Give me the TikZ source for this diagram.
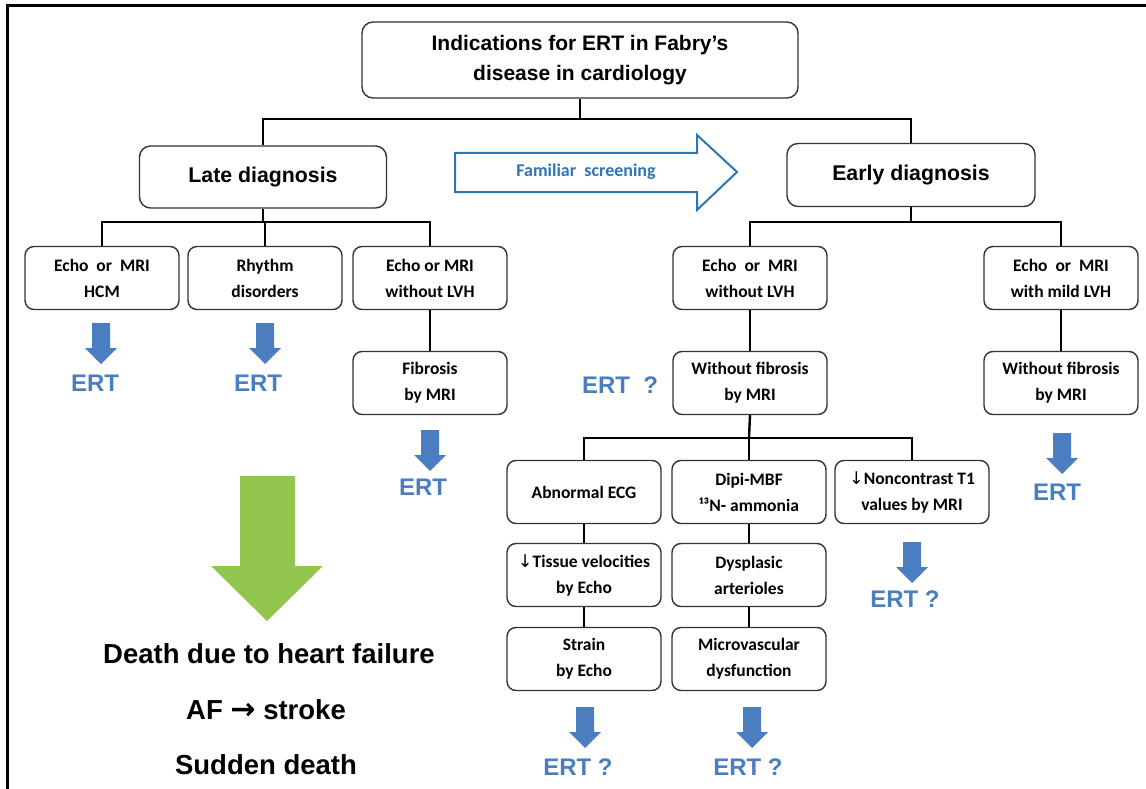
\documentclass[tikz,border=0pt]{standalone}
\usepackage{fontspec}
\setmainfont{Liberation Sans}
\newfontfamily\calfont{Carlito}
\newfontfamily\dvfont{DejaVu Sans}
\definecolor{ertblue}{HTML}{4A7EC0}
\definecolor{outblue}{HTML}{2E75B6}
\definecolor{fgreen}{HTML}{92C64E}
\definecolor{boxline}{HTML}{333333}
\tikzset{
  box/.style={draw=boxline, line width=1.4pt, rounded corners=9pt, align=center,
    inner sep=0pt, font=\calfont\bfseries\fontsize{17.5}{26}\selectfont},
  smallbox/.style={box, minimum width=154pt, minimum height=63pt},
  bigbox/.style={draw=boxline, line width=1.4pt, rounded corners=11pt, align=center, inner sep=0pt},
  conn/.style={line width=2.4pt, black},
  erttext/.style={text=ertblue, font=\bfseries\fontsize{24}{28}\selectfont, inner sep=0pt},
  deathtext/.style={font=\bfseries\fontsize{27.5}{32}\selectfont, inner sep=0pt},
  bluearr/.pic={\fill[ertblue] (-9,0) -- (-9,25) -- (-16,25) -- (0,41) -- (16,25) -- (9,25) -- (9,0) -- cycle;}
}
\begin{document}
\begin{tikzpicture}[x=1pt,y=-1pt]
\useasboundingbox (0,0) rectangle (1146,789);
\draw[line width=3pt] (7,789) -- (7,6) -- (1146,6);

% title
\node[bigbox, minimum width=436pt, minimum height=76pt, font=\bfseries\fontsize{21}{30}\selectfont] (title) at (580,60) {Indications for ERT in Fabry’s\\disease in cardiology};
\node[bigbox, minimum width=247pt, minimum height=62pt, font=\bfseries\fontsize{21.3}{24}\selectfont] (late) at (263,177) {Late diagnosis};
\node[bigbox, minimum width=248pt, minimum height=63pt, font=\bfseries\fontsize{21.3}{24}\selectfont] (early) at (911,175) {Early diagnosis};
\draw[conn] (title.south) -- (580,119) coordinate (tj);
\draw[conn] (late.north) |- (tj) -| (early.north);

% familiar screening arrow
\draw[outblue, line width=2pt, line join=miter] (455,153) -- (697,153) -- (697,135) -- (737,172) -- (697,210) -- (697,192) -- (455,192) -- cycle;
\node[text=outblue, font=\calfont\bfseries\fontsize{18}{20}\selectfont] (fam) at (586,172) {Familiar~ screening};

% late children
\node[smallbox] (l1) at (102,278) {Echo~~or~~MRI\\HCM};
\node[smallbox] (l2) at (265,278) {Rhythm\\disorders};
\node[smallbox] (l3) at (430,278) {Echo or MRI\\without LVH};
\draw[conn] (late.south) -- (263,222) coordinate (lj);
\draw[conn] (l1.north) |- (lj) -| (l3.north);
\draw[conn] (l2.north) -- (l2.north |- lj);
\node[smallbox] (fib) at (430,383) {Fibrosis\\by MRI};
\draw[conn] (l3.south) -- (fib.north);

\pic at (101,323) {bluearr};
\node[erttext] (e1) at (95,383) {ERT};
\pic at (265,323) {bluearr};
\node[erttext] (e2) at (258,383) {ERT};
\pic at (430,430) {bluearr};
\node[erttext] (e3) at (423,487) {ERT};

% green arrow & outcomes
\fill[fgreen] (240,476) -- (295,476) -- (295,566) -- (323,566) -- (267,621) -- (211,566) -- (240,566) -- cycle;
\node[deathtext] (d1) at (269,654) {Death due to heart failure};
\node[deathtext] (d2) at (266,710) {AF {\dvfont\fontsize{30}{32}\selectfont →} stroke};
\node[deathtext] (d3) at (266,765) {Sudden death};

% early children
\node[smallbox] (r1) at (750,278) {Echo~~or~~MRI\\without LVH};
\node[smallbox] (r2) at (1061,278) {Echo~~or~~MRI\\with mild LVH};
\draw[conn] (early.south) -- (911,222) coordinate (rj);
\draw[conn] (r1.north) |- (rj) -| (r2.north);
\node[smallbox] (wf1) at (750,383) {Without fibrosis\\by MRI};
\node[smallbox] (wf2) at (1061,383) {Without fibrosis\\by MRI};
\draw[conn] (r1.south) -- (wf1.north);
\draw[conn] (r2.south) -- (wf2.north);
\node[erttext] (eq1) at (620,385) {ERT~~?};
\pic at (1062,433) {bluearr};
\node[erttext] (e4) at (1057,492) {ERT};

% bottom tree
\node[smallbox] (a1) at (584,492) {Abnormal ECG};
\node[smallbox] (b1) at (749,492) {Dipi-MBF\\¹³N- ammonia};
\node[smallbox] (c1) at (912,492) {{\dvfont\mdseries ↓}Noncontrast T1\\values by MRI};
\draw[conn] (wf1.south) -- (749,438) coordinate (bj);
\draw[conn] (a1.north) |- (bj) -| (c1.north);
\draw[conn] (b1.north) -- (b1.north |- bj);
\node[smallbox] (a2) at (584,575) {{\dvfont\mdseries ↓}Tissue velocities\\by Echo};
\node[smallbox] (b2) at (749,575) {Dysplasic\\arterioles};
\node[smallbox] (a3) at (584,659) {Strain\\by Echo};
\node[smallbox] (b3) at (749,659) {Microvascular\\dysfunction};
\draw[conn] (a1.south) -- (a2.north);
\draw[conn] (a2.south) -- (a3.north);
\draw[conn] (b1.south) -- (b2.north);
\draw[conn] (b2.south) -- (b3.north);

\pic at (585,707) {bluearr};
\node[erttext] (eq2) at (578,767) {ERT ?};
\pic at (752,707) {bluearr};
\node[erttext] (eq3) at (748,767) {ERT ?};
\pic at (912,542) {bluearr};
\node[erttext] (eq4) at (905,599) {ERT ?};
\end{tikzpicture}
\end{document}
